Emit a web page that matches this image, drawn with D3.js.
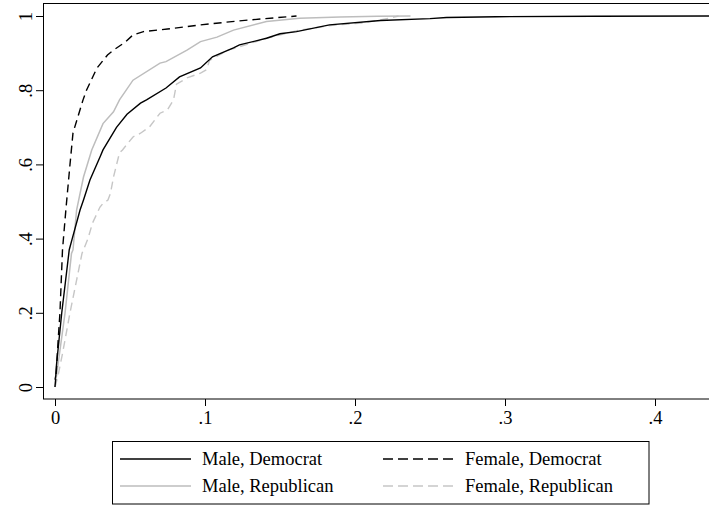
<!DOCTYPE html>
<html>
<head>
<meta charset="utf-8">
<script src="https://d3js.org/d3.v7.min.js"></script>
<style>
  body { margin:0; background:#fff; }
  svg, svg text { font-family:"Liberation Serif","Times New Roman",serif; }
  svg { display:block; }
</style>
</head>
<body>
<div id="chart_box"></div>
<script>
    // cumulative share (y) against value (x)
    var maleDemX   = [0, 0.0005, 0.001, 0.0045, 0.0095, 0.0115, 0.0167, 0.019, 0.0233, 0.03, 0.032, 0.041, 0.048, 0.057, 0.061, 0.074, 0.083, 0.097, 0.105, 0.119, 0.123, 0.141, 0.15, 0.161, 0.183, 0.217, 0.25, 0.261, 0.294, 0.36, 0.436]
    var maleDemY   = [0.02, 0.03, 0.06, 0.2, 0.37, 0.4, 0.477, 0.504, 0.558, 0.62, 0.639, 0.70, 0.735, 0.765, 0.774, 0.806, 0.836, 0.86, 0.89, 0.914, 0.922, 0.94, 0.952, 0.958, 0.976, 0.988, 0.993, 0.996, 0.998, 0.9995, 1]
    var femDemX    = [0, 0.001, 0.002, 0.0033, 0.005, 0.0073, 0.01, 0.012, 0.0187, 0.021, 0.028, 0.035, 0.039, 0.047, 0.052, 0.059, 0.075, 0.097, 0.123, 0.155, 0.161]
    var femDemY    = [0, 0.05, 0.12, 0.2, 0.37, 0.48, 0.6, 0.685, 0.774, 0.8, 0.86, 0.895, 0.908, 0.93, 0.949, 0.958, 0.965, 0.976, 0.987, 0.998, 1]
    var maleRepX   = [0, 0.002, 0.0067, 0.011, 0.012, 0.0144, 0.019, 0.0245, 0.032, 0.039, 0.043, 0.052, 0.07, 0.074, 0.088, 0.097, 0.108, 0.119, 0.141, 0.163, 0.19, 0.215, 0.237]
    var maleRepY   = [0, 0.06, 0.2, 0.36, 0.37, 0.477, 0.566, 0.639, 0.71, 0.742, 0.774, 0.827, 0.873, 0.877, 0.908, 0.931, 0.943, 0.962, 0.985, 0.994, 0.997, 0.999, 1]
    var femRepX    = [0, 0.002, 0.005, 0.01, 0.018, 0.022, 0.025, 0.03, 0.032, 0.0353, 0.037, 0.039, 0.043, 0.045, 0.052, 0.057, 0.063, 0.07, 0.075, 0.079, 0.081, 0.088, 0.097, 0.101, 0.103, 0.115, 0.119, 0.141, 0.163, 0.185, 0.205, 0.223, 0.229]
    var femRepY    = [0, 0.03, 0.09, 0.2, 0.36, 0.4, 0.442, 0.485, 0.495, 0.504, 0.522, 0.566, 0.631, 0.639, 0.674, 0.684, 0.701, 0.738, 0.747, 0.774, 0.816, 0.833, 0.846, 0.855, 0.88, 0.908, 0.912, 0.94, 0.962, 0.975, 0.981, 0.994, 1]

    var seriesNames = ['Male, Democrat', 'Female, Democrat', 'Male, Republican', 'Female, Republican']
    var xTicks = [0, 0.1, 0.2, 0.3, 0.4]
    var xTickLabels = ['0', '.1', '.2', '.3', '.4']
    var yTicks = [0, 0.2, 0.4, 0.6, 0.8, 1]
    var yTickLabels = ['0', '.2', '.4', '.6', '.8', '1']

    var width = 709
    var height = 506
    var fontSize = 18.5
    var xscale = d3.scaleLinear().domain([0, 0.4]).range([55, 655])
    var yscale = d3.scaleLinear().domain([0, 1]).range([387, 16])

    var styles = [
        {color:'#000000', dash:null,   w:1.4},
        {color:'#000000', dash:'8,5',  w:1.4},
        {color:'#bdbdbd', dash:null,   w:1.5},
        {color:'#c6c6c6', dash:'8,5',  w:1.4}
    ]
    var series = [
        {x:maleDemX, y:maleDemY},
        {x:femDemX,  y:femDemY},
        {x:maleRepX, y:maleRepY},
        {x:femRepX,  y:femRepY}
    ]

    var svg = d3.select('#chart_box').append('svg')
        .attr('width', width).attr('height', height)

    // plot frame (right side runs off the page)
    svg.append('rect')
        .attr('x', 43.5).attr('y', 3.5)
        .attr('width', 700).attr('height', 395.5)
        .attr('fill', 'none').attr('stroke', '#000').attr('stroke-width', 1)

    var line = d3.line()
        .x(function(d){ return xscale(d[0]) })
        .y(function(d){ return yscale(d[1]) })

    // draw the grey ones under the black ones
    var order = [3, 2, 0, 1]
    order.forEach(function(i){
        var pts = series[i].x.map(function(v, j){ return [v, series[i].y[j]] })
        svg.append('path')
            .datum(pts)
            .attr('d', line)
            .attr('fill', 'none')
            .attr('stroke', styles[i].color)
            .attr('stroke-width', styles[i].w)
            .attr('stroke-dasharray', styles[i].dash)
    })

    // x axis
    var xAxis = d3.axisBottom(xscale)
        .tickValues(xTicks)
        .tickSize(7)
        .tickFormat(function(d, i){ return xTickLabels[i] })
    var gx = svg.append('g').attr('transform', 'translate(0,399)').call(xAxis)
    gx.attr('font-family', null).attr('font-size', fontSize)
    gx.select('.domain').remove()
    gx.selectAll('text').attr('y', 10).attr('dy', '0.8em')

    // y axis, labels turned on their side
    var yAxis = d3.axisLeft(yscale)
        .tickValues(yTicks)
        .tickSize(7)
        .tickFormat(function(d, i){ return yTickLabels[i] })
    var gy = svg.append('g').attr('transform', 'translate(43,0)').call(yAxis)
    gy.attr('font-family', null).attr('font-size', fontSize)
    gy.select('.domain').remove()
    gy.selectAll('text')
        .attr('x', null).attr('dy', null)
        .attr('text-anchor', 'middle')
        .attr('transform', 'translate(-17,0) rotate(-90)')
        .attr('y', 6)

    // legend
    var legend = svg.append('g').attr('font-size', fontSize)
    legend.append('rect')
        .attr('x', 112.5).attr('y', 441.5)
        .attr('width', 536.5).attr('height', 62.5)
        .attr('fill', '#fff').attr('stroke', '#000').attr('stroke-width', 1)
    var legPos = [[120, 459], [383, 459], [120, 486], [383, 486]]
    seriesNames.forEach(function(name, i){
        var p = legPos[i]
        legend.append('line')
            .attr('x1', p[0]).attr('x2', p[0] + 71)
            .attr('y1', p[1]).attr('y2', p[1])
            .attr('stroke', styles[i].color)
            .attr('stroke-width', styles[i].w)
            .attr('stroke-dasharray', styles[i].dash ? '10,5' : null)
        legend.append('text')
            .attr('x', p[0] + 82).attr('y', p[1] + 6)
            .text(name)
    })
</script>
</body>
</html>
